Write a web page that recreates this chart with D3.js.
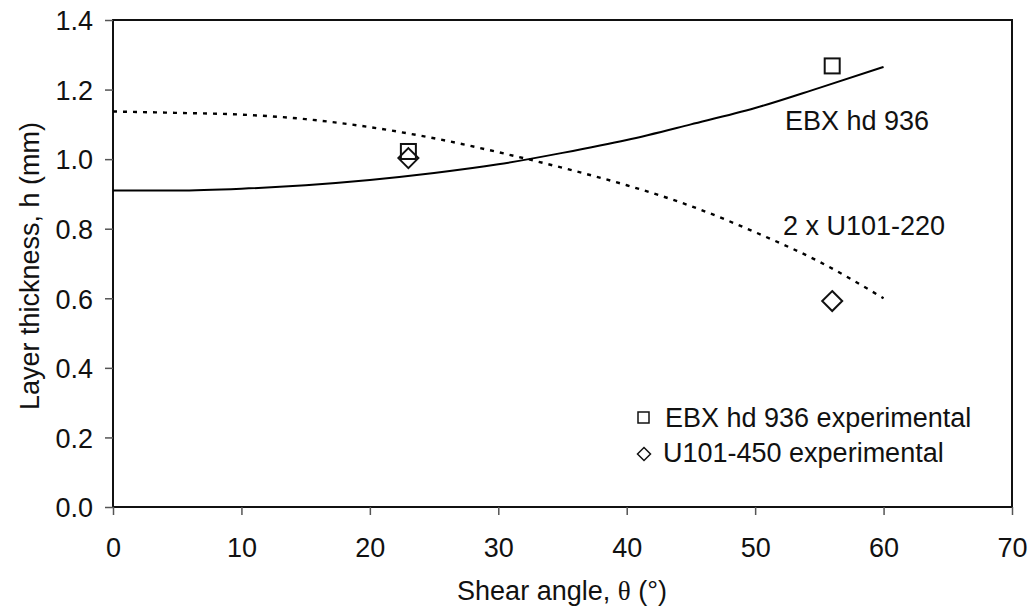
<!DOCTYPE html>
<html>
<head>
<meta charset="utf-8">
<script src="https://cdn.jsdelivr.net/npm/d3@7"></script>
<style>
  html, body { margin: 0; padding: 0; background: #fff; }
  svg { display: block; font-family: "Liberation Sans", Arial, sans-serif; }
</style>
</head>
<body>
<svg id="chart" width="1036" height="610"></svg>
<script>
// Shear angle (degrees) at which the model curves are evaluated
const angles = [0, 5, 10, 15, 20, 25, 30, 35, 40, 45, 50, 55, 60];
// Predicted layer thickness (mm)
const ebxModel  = [0.910, 0.910, 0.915, 0.925, 0.940, 0.960, 0.985, 1.018, 1.055, 1.100, 1.147, 1.205, 1.265];
const u101Model = [1.137, 1.133, 1.128, 1.115, 1.092, 1.060, 1.020, 0.975, 0.925, 0.865, 0.790, 0.705, 0.600];
// Measured points
const expAngles = [23, 56];
const ebxExp    = [1.022, 1.268];
const u101Exp   = [1.003, 0.592];
// Axis ticks
const xTicks = [0, 10, 20, 30, 40, 50, 60, 70];
const yTicks = [0, 0.2, 0.4, 0.6, 0.8, 1.0, 1.2, 1.4];

const svg = d3.select("#chart");
const m = { left: 113, top: 20, right: 1012, bottom: 507 };
const x = d3.scaleLinear().domain([0, 70]).range([m.left, m.right]);
const y = d3.scaleLinear().domain([0, 1.4]).range([m.bottom, m.top]);
const FS = 27;

// Frame
svg.append("rect")
  .attr("x", m.left).attr("y", m.top)
  .attr("width", m.right - m.left).attr("height", m.bottom - m.top)
  .attr("fill", "none").attr("stroke", "#111").attr("stroke-width", 2);

// Y axis
const yAxis = svg.append("g")
  .attr("transform", `translate(${m.left},0)`)
  .call(d3.axisLeft(y).tickValues(yTicks).tickSize(8).tickPadding(12)
    .tickFormat(d3.format(".1f")));
yAxis.select(".domain").remove();
yAxis.selectAll(".tick line").attr("stroke", "#555").attr("stroke-width", 1.5);
yAxis.selectAll(".tick text")
  .attr("font-size", FS).attr("fill", "#111")
  .attr("font-family", "Liberation Sans, Arial, sans-serif")
  .attr("dy", "0.36em");

// X axis
const xAxis = svg.append("g")
  .attr("transform", `translate(0,${m.bottom})`)
  .call(d3.axisBottom(x).tickValues(xTicks).tickSize(8).tickPadding(23)
    .tickFormat(d3.format("d")));
xAxis.select(".domain").remove();
xAxis.selectAll(".tick line").attr("stroke", "#555").attr("stroke-width", 1.5);
xAxis.selectAll(".tick text")
  .attr("font-size", FS).attr("fill", "#111")
  .attr("font-family", "Liberation Sans, Arial, sans-serif");

// Axis titles
svg.append("text")
  .attr("transform", `translate(39,266) rotate(-90)`)
  .attr("text-anchor", "middle").attr("font-size", FS).attr("fill", "#111")
  .text("Layer thickness, h (mm)");

const xt = svg.append("text")
  .attr("x", 562).attr("y", 600)
  .attr("text-anchor", "middle").attr("font-size", FS).attr("fill", "#111");
xt.append("tspan").text("Shear angle, ");
xt.append("tspan").attr("font-family", "Liberation Serif, serif").text("θ");
xt.append("tspan").text(" (°)");

// Model curves
const line = d3.line().x(d => x(d[0])).y(d => y(d[1])).curve(d3.curveMonotoneX);

svg.append("path")
  .datum(angles.map((a, i) => [a, ebxModel[i]]))
  .attr("d", line).attr("fill", "none")
  .attr("stroke", "#000").attr("stroke-width", 2);

svg.append("path")
  .datum(angles.map((a, i) => [a, u101Model[i]]))
  .attr("d", line).attr("fill", "none")
  .attr("stroke", "#000").attr("stroke-width", 2.4)
  .attr("stroke-dasharray", "4,6");

// Curve labels
svg.append("text").attr("x", 785).attr("y", 130)
  .attr("font-size", FS).attr("fill", "#111").text("EBX hd 936");
svg.append("text").attr("x", 783).attr("y", 235)
  .attr("font-size", FS).attr("fill", "#111").text("2 x U101-220");

// Experimental markers
const sq = 15, dm = 10;
svg.append("g").selectAll("rect")
  .data(expAngles.map((a, i) => [a, ebxExp[i]]))
  .join("rect")
  .attr("x", d => x(d[0]) - sq / 2).attr("y", d => y(d[1]) - sq / 2)
  .attr("width", sq).attr("height", sq)
  .attr("fill", "none").attr("stroke", "#111").attr("stroke-width", 2);

const diamond = (cx, cy, r) => `M${cx},${cy - r}L${cx + r},${cy}L${cx},${cy + r}L${cx - r},${cy}Z`;
svg.append("g").selectAll("path")
  .data(expAngles.map((a, i) => [a, u101Exp[i]]))
  .join("path")
  .attr("d", d => diamond(x(d[0]), y(d[1]), dm))
  .attr("fill", "none").attr("stroke", "#111").attr("stroke-width", 2);

// Legend
const lg = svg.append("g");
lg.append("rect").attr("x", 638).attr("y", 412).attr("width", 11).attr("height", 11)
  .attr("fill", "none").attr("stroke", "#111").attr("stroke-width", 1.5);
lg.append("text").attr("x", 665).attr("y", 427).attr("font-size", FS).attr("fill", "#111")
  .text("EBX hd 936 experimental");
lg.append("path").attr("d", diamond(644, 454, 6.5))
  .attr("fill", "none").attr("stroke", "#111").attr("stroke-width", 1.5);
lg.append("text").attr("x", 663).attr("y", 462).attr("font-size", FS).attr("fill", "#111")
  .text("U101-450 experimental");
</script>
</body>
</html>
